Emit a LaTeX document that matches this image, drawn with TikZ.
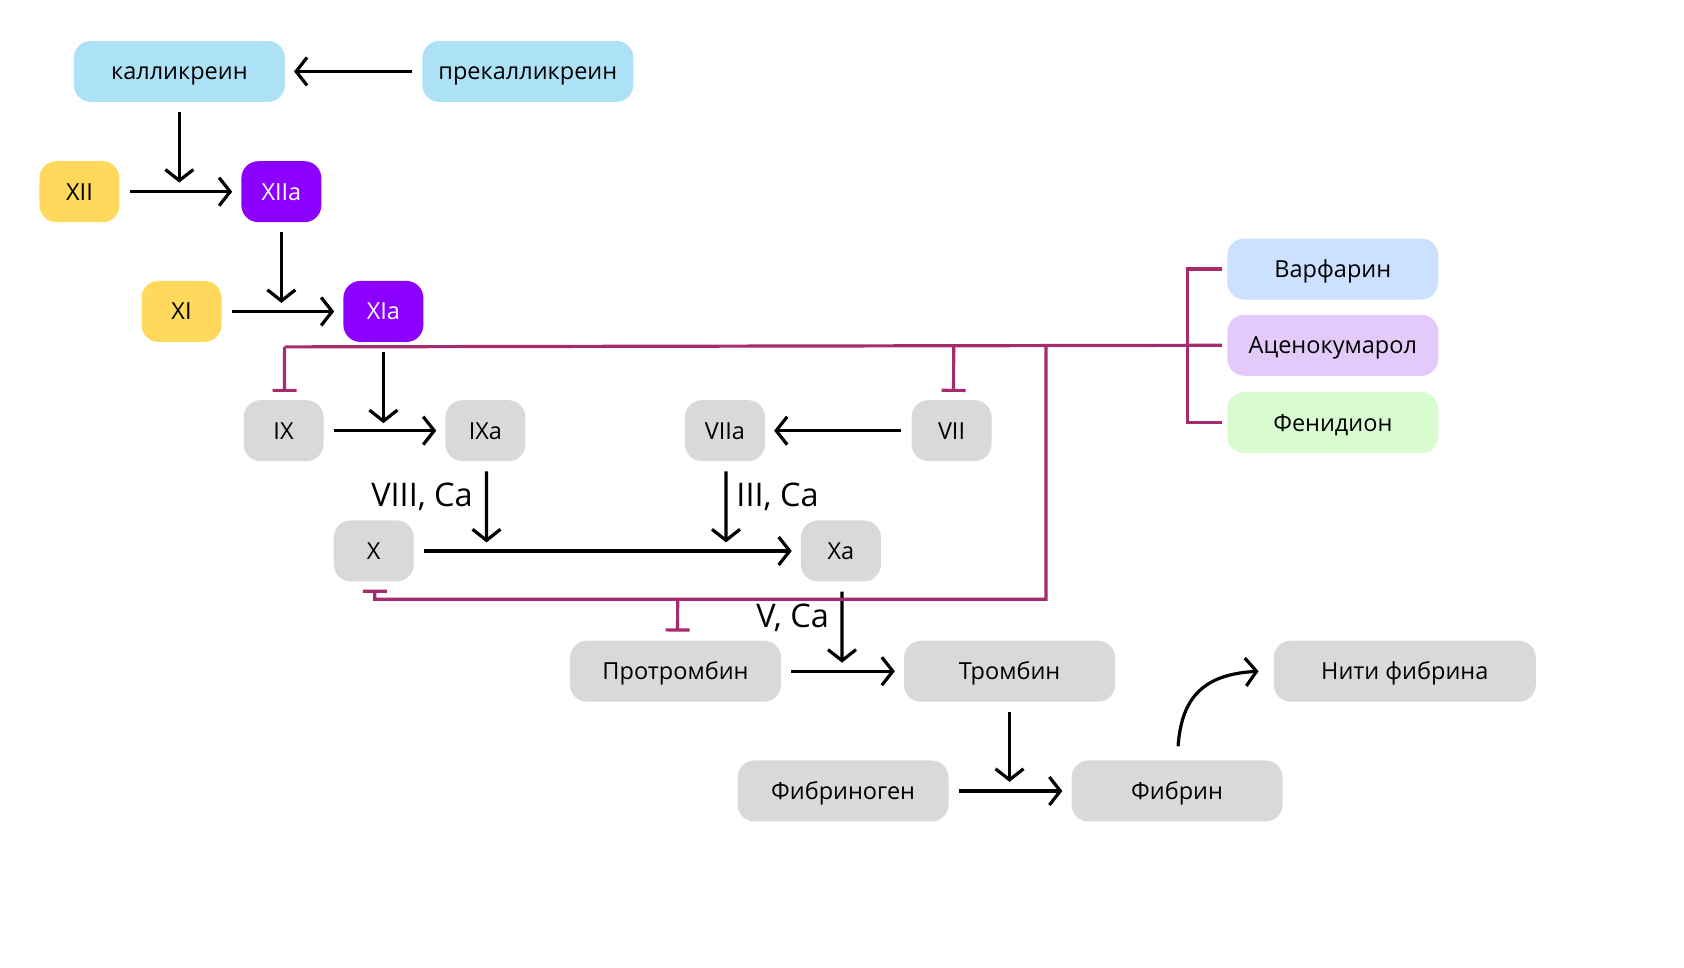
\documentclass[tikz,border=0pt]{standalone}
\usepackage{fontspec}
\setmainfont{Open Sans}
\usetikzlibrary{arrows.meta}
\definecolor{cblue}{HTML}{ADE1F6}
\definecolor{cyel}{HTML}{FFD95C}
\definecolor{cpur}{HTML}{8C00FF}
\definecolor{cgray}{HTML}{D9D9D9}
\definecolor{cwar}{HTML}{CCE1FF}
\definecolor{cace}{HTML}{E3CAFB}
\definecolor{cfen}{HTML}{D8FCD0}
\definecolor{cmag}{HTML}{A62B6E}
\tikzset{
  box/.style={rounded corners=17pt, minimum width=211pt, minimum height=61pt, inner sep=0pt, font=\fontsize{23.5}{27}\selectfont, text=black, text height=16.8pt, text depth=0pt},
  sbox/.style={box, minimum width=80pt},
  arr/.style={draw=black, line width=3.2pt, -{Straight Barb[length=11pt,width=28pt,line width=3.2pt]}},
  inh/.style={draw=cmag, line width=3.2pt},
  inht/.style={inh, -{Bar[width=24pt,line width=3.2pt]}},
  lab/.style={font=\fontsize{32.5}{36}\selectfont, inner sep=0pt}
}
\begin{document}
\begin{tikzpicture}[x=1.074pt,y=-1.074pt]
\useasboundingbox (0,0) rectangle (1568,901);
% nodes
\node[box, fill=cblue] (kal) at (167,66.5) {калликреин};
\node[box, fill=cblue] (pre) at (491.5,66.5) {прекалликреин};
\node[sbox, fill=cyel] (xii) at (74,178.5) {XII};
\node[sbox, fill=cpur, text=white] (xiia) at (262,178.5) {XIIa};
\node[sbox, fill=cyel] (xi) at (169,290) {XI};
\node[sbox, fill=cpur, text=white] (xia) at (357,290) {XIa};
\node[sbox, fill=cgray] (ix) at (264,401) {IX};
\node[sbox, fill=cgray] (ixa) at (452,401) {IXa};
\node[sbox, fill=cgray] (viia) at (675,401) {VIIa};
\node[sbox, fill=cgray] (vii) at (886,401) {VII};
\node[sbox, fill=cgray] (x) at (348,513) {X};
\node[sbox, fill=cgray] (xa) at (783,513) {Xa};
\node[box, fill=cgray] (prot) at (629,625) {Протромбин};
\node[box, fill=cgray] (trom) at (940,625) {Тромбин};
\node[box, fill=cgray, minimum width=262pt] (nit) at (1308,625) {Нити фибрина};
\node[box, fill=cgray] (fgen) at (785,736.5) {Фибриноген};
\node[box, fill=cgray] (fib) at (1096,736.5) {Фибрин};
\node[box, fill=cwar] (war) at (1241,250.5) {Варфарин};
\node[box, fill=cace] (ace) at (1241,321.5) {Аценокумарол};
\node[box, fill=cfen] (fen) at (1241,393.5) {Фенидион};
% labels
\node[lab] (l1) at (393,463) {VIII, Ca};
\node[lab] (l2) at (724,463) {III, Ca};
\node[lab] (l3) at (738,575) {V, Ca};
% coordinates
\coordinate (c1) at (167,170);
\coordinate (c2) at (262,282);
\coordinate (c3) at (357,394);
\coordinate (c4) at (453,505);
\coordinate (c5) at (676,505);
\coordinate (c6) at (784,617);
\coordinate (c7) at (940,728);
\coordinate (j1) at (265,323);
\coordinate (j2) at (888,323);
\coordinate (j3) at (974,323);
\coordinate (j4) at (631,558);
\coordinate (j5) at (349,558);
% black arrows
\draw[arr, shorten <=10pt, shorten >=9pt] (pre) -- (kal);
\draw[arr] ([yshift=-10pt]kal.south) -- (c1);
\draw[arr, shorten <=10pt, shorten >=9pt] (xii) -- (xiia);
\draw[arr] ([yshift=-10pt]xiia.south) -- (c2);
\draw[arr, shorten <=10pt, shorten >=9pt] (xi) -- (xia);
\draw[arr] ([yshift=-10pt]xia.south) -- (c3);
\draw[arr, shorten <=10pt, shorten >=9pt] (ix) -- (ixa);
\draw[arr, shorten <=10pt, shorten >=9pt] (vii) -- (viia);
\draw[arr] ([xshift=1pt,yshift=-10pt]ixa.south) -- (c4);
\draw[arr] ([xshift=1pt,yshift=-10pt]viia.south) -- (c5);
\draw[arr, shorten <=10pt, shorten >=9pt] (x) -- (xa);
\draw[arr] ([xshift=1pt,yshift=-10pt]xa.south) -- (c6);
\draw[arr, shorten <=10pt, shorten >=9pt] (prot) -- (trom);
\draw[arr] ([yshift=-10pt]trom.south) -- (c7);
\draw[arr, shorten <=10pt, shorten >=9pt] (fgen) -- (fib);
\draw[arr] ([xshift=1pt,yshift=14pt]fib.north) .. controls (1100,652) and (1118,628) .. ([xshift=-15pt]nit.west);
% inhibition lines
\draw[inh] ([xshift=-5pt]war.west) -| (1106,393.5) -- ([xshift=-5pt]fen.west);
\draw[inh] ([xshift=-5pt]ace.west) -- (j1);
\draw[inht] (j1) -- ([xshift=1pt,yshift=8pt]ix.north);
\draw[inht] (j2) -- ([xshift=2pt,yshift=8pt]vii.north);
\draw[inht] (j3) |- (j5) -- ([xshift=1pt,yshift=-8pt]x.south);
\draw[inht] (j4) -- ([xshift=2pt,yshift=9pt]prot.north);
\end{tikzpicture}
\end{document}
